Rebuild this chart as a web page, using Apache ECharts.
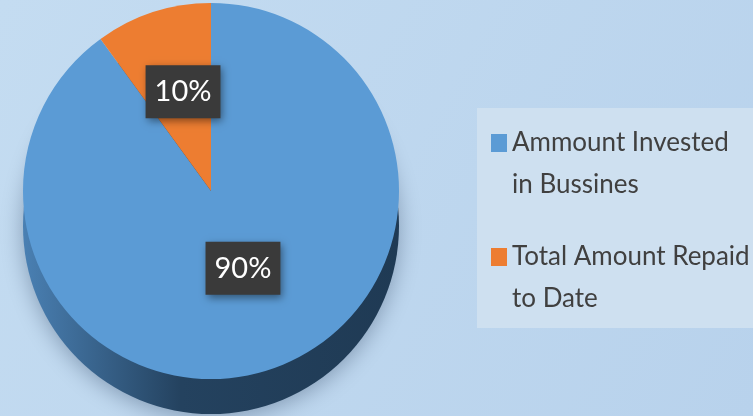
<!DOCTYPE html>
<html>
<head>
<meta charset="utf-8">
<script src="https://cdn.jsdelivr.net/npm/echarts@6/dist/echarts.min.js"></script>
<style>
  html, body { margin: 0; padding: 0; }
  .pie { width: 753px; height: 416px; }
</style>
</head>
<body>
<div class="pie"></div>
<script>
// 数据
var categories = ['Ammount Invested in Bussines', 'Total Amount Repaid to Date'];
var legendLines = ['Ammount Invested\nin Bussines', 'Total Amount Repaid\nto Date'];
var values = [90, 10];
var colors = ['#5b9bd5', '#ed7d31'];

var font = "Lato, 'DejaVu Sans Condensed', sans-serif";
var myChart = echarts.init(document.querySelector('.pie'));

var pieData = categories.map(function (name, i) {
  return { name: name, value: values[i], itemStyle: { color: colors[i] } };
});

var option = {
  animation: false,
  backgroundColor: {
    type: 'linear', x: 0, y: 0, x2: 1, y2: 1,
    colorStops: [
      { offset: 0, color: '#c4dcf1' },
      { offset: 1, color: '#b8d2ec' }
    ]
  },
  legend: {
    orient: 'vertical',
    left: 477,
    top: 108,
    padding: [14, 20, 8, 14],
    backgroundColor: '#cee0f0',
    itemGap: 30,
    itemWidth: 16,
    itemHeight: 84,
    icon: 'path://M0,0M0,84M0,12H16V30H0Z',
    data: categories,
    formatter: function (name) {
      return legendLines[categories.indexOf(name)];
    },
    textStyle: {
      fontFamily: font,
      fontSize: 26,
      lineHeight: 42,
      color: '#404040'
    }
  },
  series: [
    // 侧面 (3D 效果)
    {
      type: 'pie',
      silent: true,
      center: [211, 226],
      radius: 188,
      label: { show: false },
      itemStyle: {
        color: {
          type: 'linear', x: 0, y: 0, x2: 1, y2: 0,
          colorStops: [
            { offset: 0, color: '#4a80b3' },
            { offset: 0.42, color: '#24425f' },
            { offset: 1, color: '#1f3a54' }
          ]
        },
        shadowBlur: 22,
        shadowColor: 'rgba(20,40,70,0.35)',
        shadowOffsetY: 4
      },
      data: [{ name: 'side', value: 1 }]
    },
    {
      type: 'pie',
      silent: true,
      center: [211, 191],
      radius: 188,
      startAngle: 90,
      itemStyle: { borderWidth: 0 },
      label: {
        show: true,
        position: 'inside',
        formatter: '{d}%',
        fontFamily: font,
        fontSize: 29,
        color: '#ffffff',
        backgroundColor: '#3a3a3a',
        padding: [13, 9, 11, 9],
        shadowBlur: 8,
        shadowColor: 'rgba(0,0,0,0.45)',
        shadowOffsetX: 2,
        shadowOffsetY: 3
      },
      labelLine: { show: false },
      labelLayout: function (params) {
        return params.dataIndex === 0 ? { dx: 2, dy: -15 } : { dx: 2, dy: -7 };
      },
      data: pieData
    }
  ]
};

myChart.setOption(option);
window.addEventListener('resize', function () {
  myChart.resize();
});
</script>
</body>
</html>
